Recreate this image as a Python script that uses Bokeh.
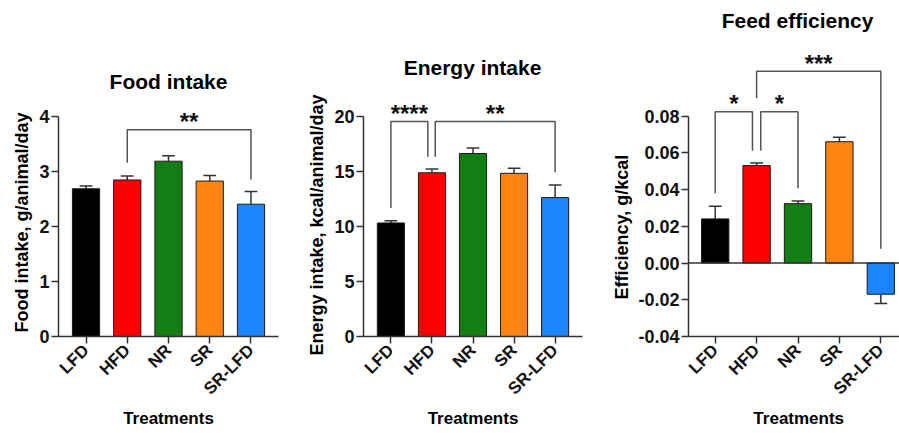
import math
from bokeh.plotting import figure
from bokeh.layouts import row
from bokeh.models import (Range1d, FixedTicker, Label, ColumnDataSource, NumeralTickFormatter,
                          Span, Title)
from bokeh.embed import file_html
from bokeh.resources import INLINE

# ---------------- data ----------------
treatments = ["LFD", "HFD", "NR", "SR", "SR-LFD"]
bar_colors = ["#000000", "#FF0000", "#147D14", "#FF8412", "#1A85FF"]

food_mean = [2.68, 2.84, 3.18, 2.82, 2.40]
food_sem = [0.05, 0.07, 0.10, 0.10, 0.23]
food_ticks = [0, 1, 2, 3, 4]

energy_mean = [10.3, 14.85, 16.6, 14.8, 12.6]
energy_sem = [0.2, 0.35, 0.5, 0.45, 1.15]
energy_ticks = [0, 5, 10, 15, 20]

eff_mean = [0.024, 0.053, 0.0323, 0.066, -0.017]
eff_sem = [0.0069, 0.0014, 0.0014, 0.0024, 0.005]
eff_ticks = [-0.04, -0.02, 0.0, 0.02, 0.04, 0.06, 0.08]

# significance brackets: (left idx, left shift, right idx, right shift, top, left end, right end, stars)
food_brackets = [(1, 0.0, 4, 0.0, 3.75, 3.15, 2.85, "**")]
energy_brackets = [(0, 0.0, 1, -0.1, 19.5, 11.65, 16.3, "****"),
                   (1, 0.08, 4, 0.0, 19.5, 16.3, 14.9, "**")]
eff_brackets = [(0, 0.0, 1, -0.1, 0.0823, 0.038, 0.0611, "*"),
                (1, 0.1, 2, 0.0, 0.0823, 0.0611, 0.0407, "*"),
                (1, 0.0, 4, 0.0, 0.1044, 0.0896, 0.0077, "***")]

FONT = "Liberation Sans"
AX = "#333333"
BR = "#555555"
H = 433
FRAME_BOTTOM = 336
TOP_TICK_PX = 115.5
NBSP = "\u00a0"
TITLE_PROPS = Title.properties()


def make_panel(title, ylabel, means, sems, ticks, brackets, fig_left, width,
               bl, br, xr, title_px, ylab_offset, ylab_standoff, treat_lead,
               fmt=None, zero_line=False):
    frame_top = 0
    y_bottom, y_top_tick = ticks[0], ticks[-1]
    ppu_y = (FRAME_BOTTOM - TOP_TICK_PX) / (y_top_tick - y_bottom)
    y_end = y_bottom + (FRAME_BOTTOM - frame_top) / ppu_y
    p = figure(width=width, height=H, x_range=Range1d(*xr), y_range=Range1d(y_bottom, y_end),
               output_backend="svg", toolbar_location=None,
               min_border_left=bl, min_border_right=br, min_border_top=frame_top,
               min_border_bottom=H - FRAME_BOTTOM, outline_line_color=None,
               background_fill_color="white", border_fill_color="white")
    frame_w = width - bl - br
    ppu_x = frame_w / (xr[1] - xr[0])
    frame_left_g = fig_left + bl

    def dx(px):
        return xr[0] + (px - frame_left_g) / ppu_x

    def dy(py):
        return y_end - (py - frame_top) / ppu_y

    idx = list(range(len(treatments)))
    tips = [m + (s if m >= 0 else -s) for m, s in zip(means, sems)]
    src = ColumnDataSource(dict(x=idx, top=means, tip=tips, color=bar_colors,
                                cl=[i - 0.155 for i in idx], cr=[i + 0.155 for i in idx]))

    if zero_line:
        p.add_layout(Span(location=0, dimension="width", line_color=AX, line_width=1.5))

    p.segment(x0="x", y0="top", x1="x", y1="tip", source=src, line_color=AX, line_width=1.5)
    p.segment(x0="cl", y0="tip", x1="cr", y1="tip", source=src, line_color=AX, line_width=1.5)
    p.vbar(x="x", top="top", bottom=0, width=0.66, source=src, fill_color="color",
           line_color="#1a1a1a", line_width=1)

    for (i, si, j, sj, top, le, re, stars) in brackets:
        xl, xrr = i + si, j + sj
        p.line(x=[xl, xl, xrr, xrr], y=[le, top, top, re], line_color=BR, line_width=1.5)
        p.add_layout(Label(x=(xl + xrr) / 2, y=top + 8.0 / ppu_y, text=stars, text_font=FONT,
                           text_font_size="24px", text_font_style="bold", text_color="#111111",
                           text_align="center", text_baseline="middle"))

    # axes
    p.xgrid.visible = False
    p.ygrid.visible = False
    for ax in (p.xaxis[0], p.yaxis[0]):
        ax.axis_line_color = AX
        ax.axis_line_width = 1.5
        ax.major_tick_line_color = AX
        ax.major_tick_line_width = 1.5
        ax.major_tick_out = 7
        ax.major_tick_in = 0
        ax.minor_tick_line_color = None
        ax.major_label_text_font = FONT
        ax.major_label_text_font_style = "bold"
        ax.major_label_text_color = "#111111"
        ax.axis_label_text_font = FONT
        ax.axis_label_text_font_style = "bold"
        ax.axis_label_text_color = "#000000"
    p.xaxis.ticker = FixedTicker(ticks=idx)
    p.xaxis.major_label_overrides = {i: t for i, t in enumerate(treatments)}
    p.xaxis.major_label_orientation = math.pi / 4
    p.xaxis.major_label_standoff = 4
    p.xaxis.major_label_text_font_size = "17px"
    p.xaxis.axis_label = NBSP * treat_lead + "Treatments"
    p.xaxis.axis_label_text_font_size = "17px"
    p.xaxis.axis_label_standoff = 1

    p.yaxis.ticker = FixedTicker(ticks=ticks)
    p.yaxis.bounds = (ticks[0], ticks[-1])
    p.yaxis.major_label_standoff = 2
    p.yaxis.major_label_text_font_size = "18px"
    if fmt:
        p.yaxis.formatter = NumeralTickFormatter(format=fmt)

    # y-axis title, positioned along the axis extent (not the whole frame)
    yt = Title(text=ylabel, align="left", text_font=FONT, text_font_size="18px",
               text_font_style="bold", text_color="#000000")
    yt.offset = ylab_offset
    if "standoff" in TITLE_PROPS:
        yt.standoff = ylab_standoff
    p.add_layout(yt, "left")

    # title
    p.add_layout(Label(x=dx(title_px[0]), y=dy(title_px[1]), text=title, text_font=FONT,
                       text_font_size="21px", text_font_style="bold", text_color="#000000",
                       text_align="center", text_baseline="middle"))
    return p


p1 = make_panel("Food intake", "Food intake, g/animal/day", food_mean, food_sem, food_ticks,
                food_brackets, 0, 300, 58, 22, (-0.667, 4.667),
                (168, 80.5), 4, 9, 0)
p2 = make_panel("Energy intake", "Energy intake, kcal/animal/day", energy_mean, energy_sem,
                energy_ticks, energy_brackets, 300, 300, 63, 18, (-0.667, 4.667),
                (472, 66.5), -19, 9, 0)
p3 = make_panel("Feed efficiency", "Efficiency, g/kcal", eff_mean, eff_sem, eff_ticks,
                eff_brackets, 600, 299, 88, 0, (-0.645, -0.645 + 211 / 41.4),
                (797, 20), 37, 7, 2, fmt="0.00", zero_line=True)

layout = row(p1, p2, p3)
open("out.html", "w").write(file_html(layout, INLINE))
